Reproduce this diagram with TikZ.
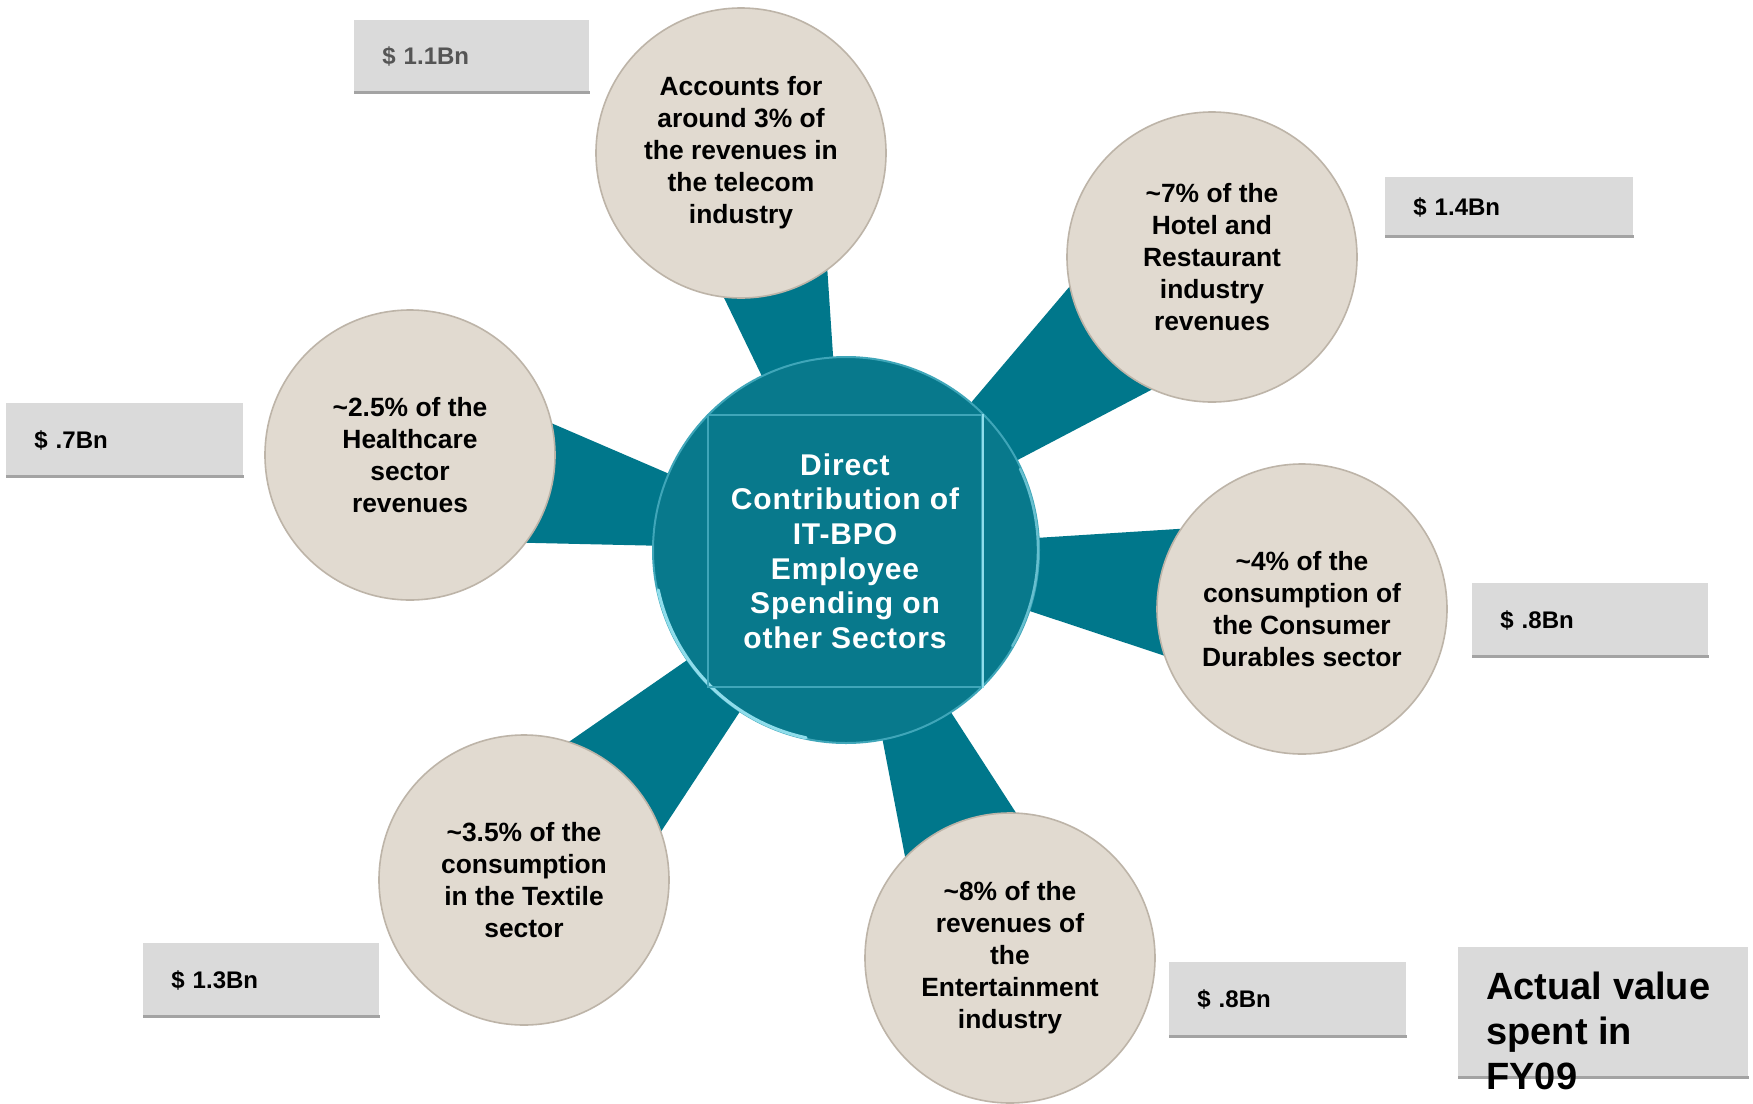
\documentclass[tikz,border=0pt]{standalone}
\usepackage{fontspec}
\setmainfont{Liberation Sans}
\newfontfamily\hubfont[LetterSpace=3]{Liberation Sans}
\usetikzlibrary{calc,backgrounds}

\definecolor{spoketeal}{HTML}{00778B}
\definecolor{hubteal}{HTML}{08798C}
\definecolor{hubrim}{HTML}{3FA6B9}
\definecolor{hubshine}{HTML}{8FDDEB}
\definecolor{discfill}{HTML}{E1DAD0}
\definecolor{discrim}{HTML}{BDB4A8}
\definecolor{boxfill}{HTML}{DADADA}
\definecolor{boxedge}{HTML}{A3A3A3}
\definecolor{softgray}{HTML}{555555}

\tikzset{
  disc/.style={circle, fill=discfill, draw=discrim, line width=0.8pt,
    minimum size=145pt, inner sep=0pt, align=center,
    font=\bfseries\fontsize{13.2}{16}\selectfont},
  valbox/.style 2 args={anchor=north west, rectangle, fill=boxfill,
    text width=#1, minimum height=#2, inner xsep=14pt, inner ysep=0pt,
    align=left, font=\bfseries\fontsize{12}{14}\selectfont},
  valedge/.style={draw=boxedge, line width=1.6pt},
}

\begin{document}
\begin{tikzpicture}[x=0.5pt, y=-0.5pt]
\useasboundingbox (0,0) rectangle (1753,1104);

% hub in the middle
\node[circle, fill=hubteal, draw=hubrim, line width=1pt, minimum size=193pt,
      inner sep=0pt] (hub) at (846,550) {};
\begin{scope}[shift={(hub.center)}, x=1pt, y=1pt]
  \draw[hubshine, line width=1.6pt, line cap=round]
    (192:96) arc[start angle=192, end angle=258, radius=96];
  \draw[hubshine!70!hubteal, line width=1.2pt, line cap=round]
    (330:96) arc[start angle=330, end angle=385, radius=96];
\end{scope}
\node[rectangle, draw=hubrim, line width=1.2pt, minimum width=137pt,
      minimum height=136pt, inner sep=0pt, align=center, text=white,
      font=\hubfont\bfseries\fontsize{15}{17.3}\selectfont] (core) at (845,551)
  {Direct\\Contribution of\\IT-BPO\\Employee\\Spending on\\other Sectors};
\draw[hubshine, line width=1.2pt] (core.north east) -- (core.south east);

% sector discs
\node[disc] (tel) at (741,153)
  {Accounts for\\around 3\% of\\the revenues in\\the telecom\\industry};
\node[disc] (hot) at (1212,257)
  {\textasciitilde7\% of the\\Hotel and\\Restaurant\\industry\\revenues};
\node[disc] (con) at (1302,609)
  {\textasciitilde4\% of the\\consumption of\\the Consumer\\Durables sector};
\node[disc] (ent) at (1010,958)
  {\textasciitilde8\% of the\\revenues of\\the\\Entertainment\\industry};
\node[disc] (tex) at (524,880)
  {\textasciitilde3.5\% of the\\consumption\\in the Textile\\sector};
\node[disc] (hea) at (410,455)
  {\textasciitilde2.5\% of the\\Healthcare\\sector\\revenues};

% spokes from hub to each disc, behind everything
\begin{scope}[on background layer]
  \fill[white] (0,0) rectangle (1753,1104);
  \foreach \s in {tel,hot,con,ent,tex,hea}
    \fill[spoketeal] (hub.center) -- ($(hub.center)!1!11:(\s.center)$)
      -- ($(hub.center)!1!-11:(\s.center)$) -- cycle;
\end{scope}

% spend values
\node[valbox={89.5pt}{36.5pt}, text=softgray] (v1) at (354,20) {\$ 1.1Bn};
\node[valbox={96pt}{30pt}] (v2) at (1385,177) {\$ 1.4Bn};
\node[valbox={90.5pt}{37pt}] (v3) at (6,403) {\$ .7Bn};
\node[valbox={90pt}{37pt}] (v4) at (1472,583) {\$ .8Bn};
\node[valbox={90pt}{37pt}] (v5) at (143,943) {\$ 1.3Bn};
\node[valbox={90.5pt}{37.5pt}] (v6) at (1169,962) {\$ .8Bn};
\foreach \v in {v1,v2,v3,v4,v5,v6}
  \draw[valedge] ([yshift=0.8pt]\v.south west) -- ([yshift=0.8pt]\v.south east);

% key
\node[anchor=north west, rectangle, fill=boxfill, minimum width=145pt,
      minimum height=65.5pt, inner sep=0pt] (key) at (1458,947) {};
\draw[valedge] ([yshift=0.8pt]key.south west) -- ([yshift=0.8pt]key.south east);
\node[anchor=north west, inner sep=0pt, align=left,
      font=\bfseries\fontsize{19}{22.5}\selectfont] (keytext) at (1486,972)
  {Actual value\\spent in\\FY09};
\end{tikzpicture}
\end{document}
